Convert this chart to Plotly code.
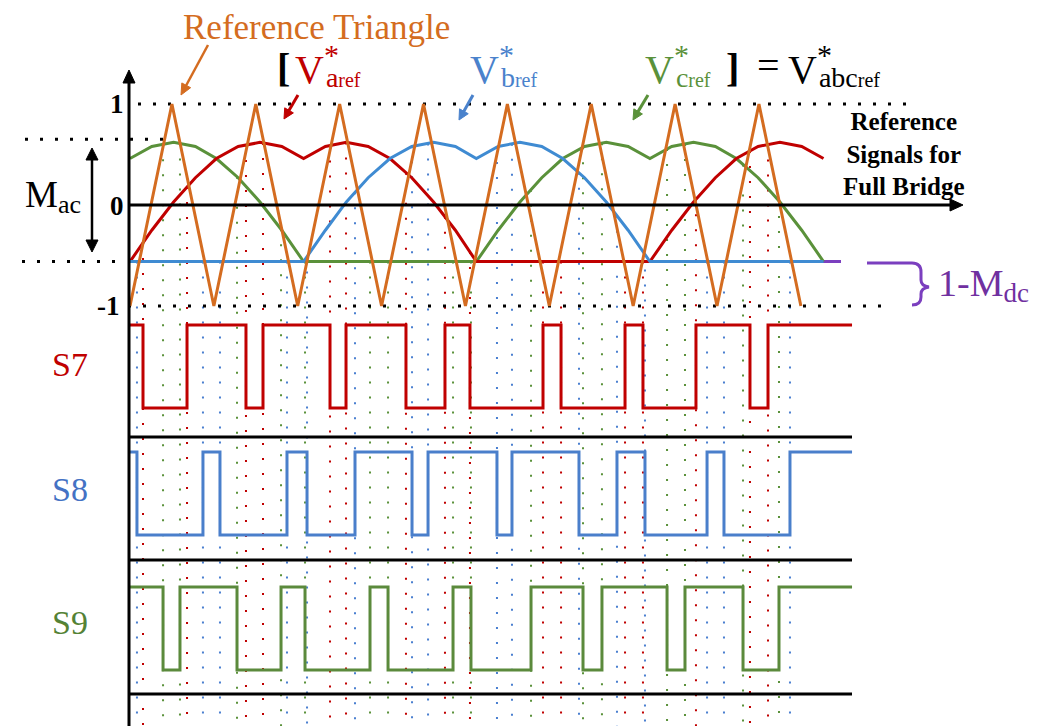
import math
import plotly.graph_objects as go
import numpy as np

W, H = 1056, 726

# ---------------- data (time in carrier periods, value in p.u.) ----------------
tri_t = [0, 0.5, 1, 1.5, 2, 2.5, 3, 3.5, 4, 4.5, 5, 5.5, 6, 6.5, 7, 7.5, 8]
tri_v = [-1, 1, -1, 1, -1, 1, -1, 1, -1, 1, -1, 1, -1, 1, -1, 1, -1]

red_t = [0.00, 0.26, 0.52, 0.78, 1.03, 1.29, 1.55, 1.81, 2.07, 2.33, 2.58, 2.84, 3.10, 3.36, 3.62, 3.88, 4.13,
         6.20, 6.46, 6.72, 6.98, 7.23, 7.49, 7.75, 8.01, 8.27]
red_v = [-0.56, -0.25, 0.03, 0.27, 0.46, 0.58, 0.62, 0.58, 0.46, 0.58, 0.62, 0.58, 0.46, 0.27, 0.03, -0.25, -0.56,
         -0.56, -0.25, 0.03, 0.27, 0.46, 0.58, 0.62, 0.58, 0.46]

green_t = [0.00, 0.26, 0.52, 0.78, 1.03, 1.29, 1.55, 1.81, 2.07,
           4.13, 4.39, 4.65, 4.91, 5.16, 5.42, 5.68, 5.94, 6.20, 6.46, 6.72, 6.98, 7.23, 7.49, 7.75, 8.01, 8.27]
green_v = [0.46, 0.58, 0.62, 0.58, 0.46, 0.27, 0.03, -0.25, -0.56,
           -0.56, -0.25, 0.03, 0.27, 0.46, 0.58, 0.62, 0.58, 0.46, 0.58, 0.62, 0.58, 0.46, 0.27, 0.03, -0.25, -0.56]

blue_t = [0.00, 2.07, 2.33, 2.58, 2.84, 3.10, 3.36, 3.62, 3.88, 4.13, 4.39, 4.65, 4.91, 5.16, 5.42, 5.68, 5.94,
          6.20, 8.27]
blue_v = [-0.56, -0.56, -0.25, 0.03, 0.27, 0.46, 0.58, 0.62, 0.58, 0.46, 0.58, 0.62, 0.58, 0.46, 0.27, 0.03, -0.25,
          -0.56, -0.56]

# switching instants (state starts at 1 and toggles at each instant)
s7_t = [0.155, 0.680, 1.383, 1.586, 2.385, 2.576, 3.291, 3.756, 4.054, 4.925, 5.140, 5.903, 6.117, 6.749, 7.393, 7.608]
s8_t = [0.083, 0.870, 1.073, 1.872, 2.111, 2.683, 3.363, 3.554, 4.376, 4.555, 5.354, 5.807, 6.141, 6.881, 7.083, 7.870]
s9_t = [0.394, 0.596, 1.276, 1.801, 2.087, 2.862, 3.077, 3.852, 4.066, 4.782, 5.402, 5.628, 6.404, 6.618, 7.310, 7.739]
s_end = 8.61

m_ac_level = 0.65
mdc_level = -0.56

# ---------------- geometry helpers (layout only) ----------------
OFF = 8                           # page body margin of the html page
PX0, PXS = 130.0, 83.86          # page pixel of t=0, pixels per carrier period
PY0, PYS = 205.0, 101.0          # page pixel of v=0, pixels per unit
xr = [-(PX0 - OFF) / PXS, (W - (PX0 - OFF)) / PXS]
yr = [((PY0 - OFF) - H) / PYS, (PY0 - OFF) / PYS]
v_bottom = (PY0 - 730) / PYS


def t_of(px):
    return (px - PX0) / PXS


def fx(p):
    return (p - OFF) / W


def fy(p):
    return 1 - (p - OFF) / H


def lane_range(p_hi, p_lo):
    p_hi -= OFF
    p_lo -= OFF
    s = p_lo - p_hi
    return [(p_lo - H) / s, p_lo / s]


ORANGE = '#D46C20'
RED = '#C00000'
BLUE = '#4A82CC'
GREEN = '#5A913A'
PURPLE = '#7B3FBF'
FONT = 'Liberation Serif, Times New Roman, serif'

fig = go.Figure()


def vlines(ts, ref_t, ref_v, color):
    xs, ys = [], []
    for t in ts:
        v0 = float(np.interp(t, ref_t, ref_v))
        xs += [t, t, None]
        ys += [v0, v_bottom, None]
    fig.add_trace(go.Scatter(x=xs, y=ys, mode='lines', hoverinfo='skip', showlegend=False,
                             line=dict(color=color, width=2, dash='2px,13px')))


vlines(s7_t, red_t, red_v, RED)
vlines(s8_t, blue_t, blue_v, '#4A7FD0')
vlines(s9_t, green_t, green_v, GREEN)


def hdots(x0, x1, v):
    fig.add_trace(go.Scatter(x=[x0, x1], y=[v, v], mode='lines', hoverinfo='skip', showlegend=False,
                             line=dict(color='black', width=3, dash='3px,12px')))


hdots(t_of(138), t_of(917), 1)
hdots(t_of(128), t_of(892), -1)
hdots(t_of(25), t_of(166), m_ac_level)
hdots(t_of(22), t_of(116), mdc_level)

# purple 1-Mdc level under the references
fig.add_trace(go.Scatter(x=[0, t_of(841)], y=[mdc_level, mdc_level], mode='lines', hoverinfo='skip',
                         showlegend=False, line=dict(color=PURPLE, width=3)))

# reference signals
for tt, vv, c in [(green_t, green_v, GREEN), (red_t, red_v, RED), (blue_t, blue_v, '#3F8BD2')]:
    fig.add_trace(go.Scatter(x=tt, y=vv, mode='lines', hoverinfo='skip', showlegend=False,
                             line=dict(color=c, width=3)))

# triangle carrier
fig.add_trace(go.Scatter(x=tri_t, y=tri_v, mode='lines', hoverinfo='skip', showlegend=False,
                         line=dict(color=ORANGE, width=3)))


# switching signals
def step(ts):
    st = [1 - (i % 2) for i in range(len(ts) + 1)]
    return [0] + list(ts) + [s_end], st + [st[-1]]


for ts, c, ax in [(s7_t, RED, 'y2'), (s8_t, '#4A7FCB', 'y3'), (s9_t, '#5B8A3C', 'y4')]:
    xs, ys = step(ts)
    fig.add_trace(go.Scatter(x=xs, y=ys, mode='lines', yaxis=ax, hoverinfo='skip', showlegend=False,
                             line=dict(color=c, width=3, shape='hv')))

# ---------------- shapes: arrows, separators, brace ----------------
shapes = []


def P(x, y):
    return '%.5f,%.5f' % (fx(x), fy(y))


def head(hx, hy, dx, dy, L, hw, color):
    nx, ny = -dy, dx
    bx, by = hx - dx * L, hy - dy * L
    path = ('M' + P(hx, hy) + ' L' + P(bx + nx * hw, by + ny * hw) +
            ' L' + P(bx - nx * hw, by - ny * hw) + ' Z')
    shapes.append(dict(type='path', xref='paper', yref='paper', path=path,
                       fillcolor=color, line=dict(color=color, width=1)))


def arrow(hx, hy, tx, ty, color, width, L=12, hw=6, both=False):
    d = math.hypot(hx - tx, hy - ty)
    dx, dy = (hx - tx) / d, (hy - ty) / d
    sx, sy = (tx + dx * L * 0.8, ty + dy * L * 0.8) if both else (tx, ty)
    ex, ey = hx - dx * L * 0.8, hy - dy * L * 0.8
    shapes.append(dict(type='line', xref='paper', yref='paper', x0=fx(sx), y0=fy(sy), x1=fx(ex), y1=fy(ey),
                       line=dict(color=color, width=width)))
    head(hx, hy, dx, dy, L, hw, color)
    if both:
        head(tx, ty, -dx, -dy, L, hw, color)


# axes
arrow(129, 70, 129, 740, 'black', 3, L=13, hw=6)
arrow(963, 205, 128, 205, 'black', 3, L=13, hw=6)
arrow(92, 148, 92, 252, 'black', 2.5, L=12, hw=6, both=True)

# pointer arrows
arrow(181, 95, 208, 45, ORANGE, 2.5, L=11, hw=5)
arrow(284, 119, 298, 95, RED, 3, L=10, hw=5)
arrow(459, 120, 473, 95, BLUE, 3, L=10, hw=5)
arrow(633, 120, 648, 95, GREEN, 3, L=10, hw=5)

for py in [437, 560, 694]:
    shapes.append(dict(type='line', xref='paper', yref='paper', x0=fx(129), x1=fx(852),
                       y0=fy(py), y1=fy(py), line=dict(color='black', width=3)))

brace = ('M' + P(867, 263) + ' L' + P(912, 263) + ' Q' + P(921, 263) + ' ' + P(921, 272) +
         ' L' + P(921, 280) + ' Q' + P(921, 286) + ' ' + P(929, 287) +
         ' Q' + P(921, 288) + ' ' + P(921, 294) + ' L' + P(921, 297) +
         ' Q' + P(921, 305) + ' ' + P(912, 305))
shapes.append(dict(type='path', xref='paper', yref='paper', path=brace,
                   line=dict(color=PURPLE, width=3)))

# ---------------- text ----------------
ann = []


def txt(s, x, ymid, size, color='black', anchor='left', bold=False):
    ann.append(dict(text=('<b>%s</b>' % s) if bold else s, x=fx(x), y=fy(ymid), xref='paper',
                    yref='paper', xanchor=anchor, yanchor='middle', showarrow=False, borderpad=0,
                    font=dict(family=FONT, size=size, color=color)))


def txt_b(s, x, baseline, size, **kw):
    txt(s, x, baseline - 0.3375 * size, size, **kw)


txt_b('Reference Triangle', 316, 39, 35, color=ORANGE, anchor='center')
txt_b('[', 276, 81, 40, bold=True)
STAR = '<span style="font-size:30px;baseline-shift:18px;letter-spacing:-13px">*</span>'
for vx, sub, col in [(294, 'a', RED), (469, 'b', BLUE), (644, 'c', GREEN), (787, 'abc', 'black')]:
    s = ('V' + STAR + '<span style="font-size:28px;baseline-shift:-4px">%s</span>'
         '<span style="font-size:20px;baseline-shift:-4px">ref</span>' % sub)
    txt(s, vx, 82 - 16.5, 40, color=col)
txt_b(']', 725, 81, 40, bold=True)
txt_b('=', 756, 79, 40)

txt_b('1', 125, 113, 27, anchor='right', bold=True)
txt_b('0', 125, 215, 27, anchor='right', bold=True)
txt_b('-1', 121, 315, 27, anchor='right', bold=True)
# M_ac : bbox spans main text top to shifted subscript bottom
txt('M<span style="font-size:26px;baseline-shift:-6px">ac</span>', 24,
    ((207 - 0.891 * 37) + (207 + 6 + 0.216 * 26)) / 2, 37)
txt('1-M<span style="font-size:27px;baseline-shift:-6px">dc</span>', 937,
    ((296 - 0.891 * 38) + (296 + 6 + 0.216 * 27)) / 2, 38, color='#7030A0')

txt_b('S7', 70, 376, 34, color=RED, anchor='center')
txt_b('S8', 70, 501, 34, color='#4472C4', anchor='center')
txt_b('S9', 70, 634, 34, color='#548235', anchor='center')

ann.append(dict(text='<b>Reference<br>Signals for<br>Full Bridge</b>', x=fx(904), y=fy(107),
                xref='paper', yref='paper', xanchor='center', yanchor='top', showarrow=False,
                borderpad=0, align='center', font=dict(family=FONT, size=25, color='black')))

fig.update_layout(
    width=W, height=H, margin=dict(l=0, r=0, t=0, b=0, pad=0),
    paper_bgcolor='white', plot_bgcolor='white', showlegend=False,
    xaxis=dict(range=xr, visible=False, fixedrange=True),
    yaxis=dict(range=yr, visible=False, fixedrange=True),
    yaxis2=dict(range=lane_range(325, 408), visible=False, overlaying='y'),
    yaxis3=dict(range=lane_range(452, 535), visible=False, overlaying='y'),
    yaxis4=dict(range=lane_range(587, 670), visible=False, overlaying='y'),
    annotations=ann, shapes=shapes,
)

fig.write_html('out.html')
